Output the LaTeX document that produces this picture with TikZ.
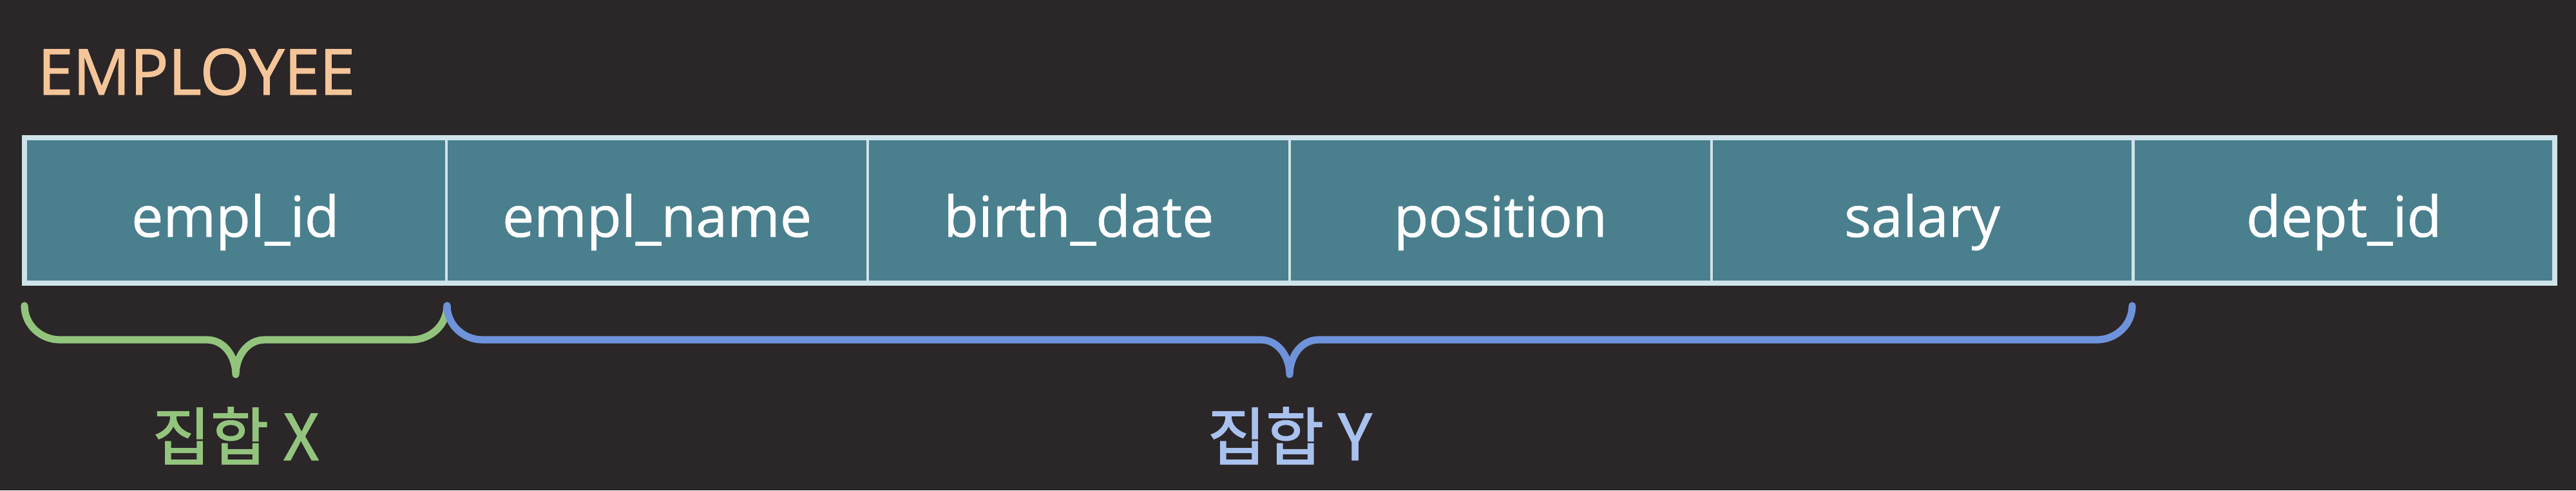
\documentclass[tikz,border=0pt]{standalone}
\usepackage{fontspec}
\setmainfont{Open Sans}
\newfontfamily\titlefont[FakeBold=1.5]{Open Sans}
\newfontfamily\cellfont[FakeBold=0.8]{Open Sans}
\newfontfamily\krfont[FakeBold=1.5]{Noto Sans CJK KR}
\definecolor{bgc}{HTML}{2B2628}
\definecolor{cellc}{HTML}{4A7F8E}
\definecolor{edgec}{HTML}{CFE3EA}
\definecolor{titlec}{HTML}{F4C598}
\definecolor{greenc}{HTML}{93C47D}
\definecolor{bluec}{HTML}{6E93DA}
\definecolor{bluetext}{HTML}{A9C1EE}
\tikzset{
  cellbox/.style={draw=edgec, line width=1.2pt, fill=cellc, minimum width=6.5467cm, minimum height=2.26cm,
    inner sep=0pt, outer sep=0pt, anchor=west, text=white, text height=0.82cm, text depth=0cm,
    font=\cellfont\fontsize{25}{30}\selectfont},
  bracegreen/.style={draw=greenc, line width=3.2pt, line cap=round, line join=round},
  braceblue/.style={draw=bluec, line width=3.2pt, line cap=round, line join=round},
  setlabel/.style={anchor=base, font=\krfont\fontsize{28}{32}\selectfont}
}
\begin{document}
\begin{tikzpicture}
\useasboundingbox (0,0) rectangle (39.99,7.62);
\fill[bgc] (0,0) rectangle (39.99,7.62);
\node[anchor=base west, text=titlec, inner sep=0pt, font=\titlefont\fontsize{28}{32}\selectfont] (title) at (0.58,6.15) {EMPLOYEE};
\node[cellbox] (c1) at (0.38,4.35) {empl\_id};
\node[cellbox] (c2) at (c1.east) {empl\_name};
\node[cellbox] (c3) at (c2.east) {birth\_date};
\node[cellbox] (c4) at (c3.east) {position};
\node[cellbox] (c5) at (c4.east) {salary};
\node[cellbox] (c6) at (c5.east) {dept\_id};
\draw[edgec, line width=2.4pt] (c1.north west) rectangle (c6.south east);
% brace X
\draw[bracegreen] (0.38,2.87) to[out=-90,in=180] (0.93,2.34) -- (3.21,2.34) to[out=0,in=90] (3.66,1.80)
  to[out=90,in=180] (4.11,2.34) -- (6.39,2.34) to[out=0,in=-90] (6.94,2.87);
% brace Y
\draw[braceblue] (6.94,2.87) to[out=-90,in=180] (7.49,2.34) -- (19.57,2.34) to[out=0,in=90] (20.02,1.80)
  to[out=90,in=180] (20.47,2.34) -- (32.55,2.34) to[out=0,in=-90] (33.10,2.87);
\node[setlabel, text=greenc] (lx) at (3.66,0.47) {집합 X};
\node[setlabel, text=bluetext] (ly) at (20.02,0.47) {집합 Y};
\end{tikzpicture}
\end{document}
